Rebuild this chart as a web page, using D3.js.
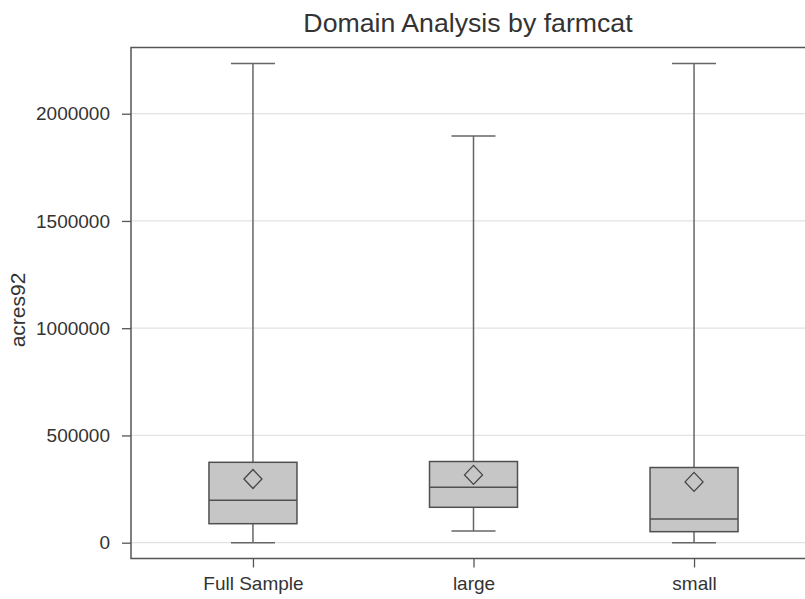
<!DOCTYPE html>
<html>
<head>
<meta charset="utf-8">
<script src="https://cdn.jsdelivr.net/npm/d3@7"></script>
<style>
  body { margin: 0; background: #fff; }
  text { font-family: "Liberation Sans", Arial, sans-serif; fill: #333; }
</style>
</head>
<body>
<svg id="chart" width="805" height="599"></svg>
<script>
// box plot summary values
const categories = ["Full Sample", "large", "small"]
const minVals    = [0, 54500, 0]
const q1Vals     = [88600, 165100, 51400]
const medianVals = [197700, 258600, 110600]
const q3Vals     = [374800, 378500, 350500]
const maxVals    = [2234000, 1896000, 2234000]
const meanVals   = [297000, 316200, 283500]
const yTicks     = [0, 500000, 1000000, 1500000, 2000000]

const width = 805, height = 599
const frame = { left: 131, top: 47.5, bottom: 558.5, right: 830 }

const svg = d3.select("#chart")

const x = d3.scalePoint()
    .domain(categories)
    .range([frame.left, 816])
    .padding(0.553)

const y = d3.scaleLinear()
    .domain([0, 2000000])
    .range([542.7, 113.7])

// gridlines
svg.append("g")
  .selectAll("line")
  .data(yTicks)
  .enter().append("line")
    .attr("x1", frame.left)
    .attr("x2", frame.right)
    .attr("y1", d => y(d))
    .attr("y2", d => y(d))
    .attr("stroke", "#e2e2e2")
    .attr("stroke-width", 1.2)

// frame (right side is cut off in the reference)
svg.append("path")
    .attr("d", `M${frame.right},${frame.top}H${frame.left}V${frame.bottom}H${frame.right}`)
    .attr("fill", "none")
    .attr("stroke", "#555")
    .attr("stroke-width", 1.5)

// y axis
const yAxis = svg.append("g")
    .attr("transform", `translate(${frame.left},0)`)
    .call(d3.axisLeft(y).tickValues(yTicks).tickSize(9).tickPadding(12).tickFormat(d3.format("d")))
yAxis.select(".domain").remove()
yAxis.selectAll(".tick line").attr("stroke", "#555").attr("stroke-width", 1.3)
yAxis.selectAll(".tick text").style("font-size", "19px").attr("fill", "#333")

// x axis
const xAxis = svg.append("g")
    .attr("transform", `translate(0,${frame.bottom})`)
    .call(d3.axisBottom(x).tickSize(9).tickPadding(9))
xAxis.select(".domain").remove()
xAxis.selectAll(".tick line").attr("stroke", "#555").attr("stroke-width", 1.3)
xAxis.selectAll(".tick text").style("font-size", "19px").attr("fill", "#333")

// boxes
const boxW = 88, capW = 44
const rows = categories.map((c, i) => ({
  cat: c, min: minVals[i], q1: q1Vals[i], med: medianVals[i],
  q3: q3Vals[i], max: maxVals[i], mean: meanVals[i]
}))

const g = svg.append("g").selectAll("g")
  .data(rows)
  .enter().append("g")
    .attr("transform", d => `translate(${x(d.cat)},0)`)

// whiskers
g.append("line")
    .attr("y1", d => y(d.max)).attr("y2", d => y(d.q3))
    .attr("stroke", "#666").attr("stroke-width", 1.5)
g.append("line")
    .attr("y1", d => y(d.q1)).attr("y2", d => y(d.min))
    .attr("stroke", "#666").attr("stroke-width", 1.5)
g.append("line")
    .attr("x1", -capW / 2).attr("x2", capW / 2)
    .attr("y1", d => y(d.max)).attr("y2", d => y(d.max))
    .attr("stroke", "#666").attr("stroke-width", 1.5)
g.append("line")
    .attr("x1", -capW / 2).attr("x2", capW / 2)
    .attr("y1", d => y(d.min)).attr("y2", d => y(d.min))
    .attr("stroke", "#666").attr("stroke-width", 1.5)

g.append("rect")
    .attr("x", -boxW / 2)
    .attr("width", boxW)
    .attr("y", d => y(d.q3))
    .attr("height", d => y(d.q1) - y(d.q3))
    .attr("fill", "#c6c6c6")
    .attr("stroke", "#505050")
    .attr("stroke-width", 1.5)

g.append("line")
    .attr("x1", -boxW / 2).attr("x2", boxW / 2)
    .attr("y1", d => y(d.med)).attr("y2", d => y(d.med))
    .attr("stroke", "#505050").attr("stroke-width", 1.5)

// mean diamonds
g.append("path")
    .attr("d", d => {
      const cy = y(d.mean)
      return `M0,${cy - 9.5}L9,${cy}L0,${cy + 9.5}L-9,${cy}Z`
    })
    .attr("fill", "none")
    .attr("stroke", "#444")
    .attr("stroke-width", 1.3)

// title
svg.append("text")
    .attr("x", 468)
    .attr("y", 32)
    .attr("text-anchor", "middle")
    .style("font-size", "26.7px")
    .text("Domain Analysis by farmcat")

// y label
svg.append("text")
    .attr("transform", "translate(25,310) rotate(-90)")
    .attr("text-anchor", "middle")
    .style("font-size", "21px")
    .text("acres92")
</script>
</body>
</html>
